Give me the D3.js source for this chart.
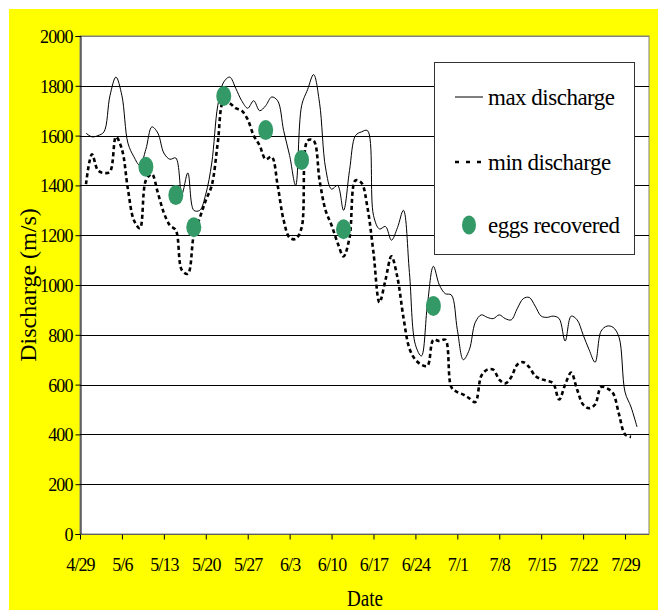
<!DOCTYPE html>
<html>
<head>
<meta charset="utf-8">
<script src="https://cdn.jsdelivr.net/npm/d3@7"></script>
<style>
  body { margin: 0; background: #fff; }
  text { font-family: "Liberation Serif", "Times New Roman", serif; fill: #000; }
</style>
</head>
<body>
<svg width="658" height="611"></svg>
<script>
(function (d3) {
    // daily series, first value is 4/30
    const firstDay = "2003-04-30";
    const maxDischarge = [
        1610, 1595, 1600, 1615, 1760, 1835, 1760, 1570, 1515, 1480,
        1545, 1635, 1610, 1530, 1505, 1510, 1365, 1450, 1300, 1300,
        1365, 1490, 1720, 1815, 1835, 1790, 1740, 1710, 1740, 1700,
        1720, 1755, 1740, 1620, 1520, 1400, 1720, 1785, 1845, 1730,
        1470, 1385, 1400, 1300, 1460, 1600, 1615, 1620, 1280, 1225,
        1235, 1180, 1230, 1300, 1050, 760, 715, 920, 1075, 1000,
        965, 960, 820, 700, 740, 850, 880, 870, 865, 880,
        865, 860, 905, 945, 950, 915, 875, 870, 875, 865,
        775, 875, 860, 800, 740, 690, 815, 835, 830, 790,
        570, 510, 430
    ];
    const minDischarge = [
        1405, 1525, 1460, 1450, 1455, 1595, 1545, 1385, 1260, 1228,
        1420, 1445, 1370, 1290, 1240, 1220, 1060, 1045, 1200, 1270,
        1340, 1400, 1570, 1740, 1730, 1710, 1700, 1665, 1600, 1560,
        1505, 1515, 1400, 1260, 1190, 1185, 1230, 1580, 1580, 1420,
        1300, 1240, 1170, 1115, 1190, 1420, 1410, 1310, 1130, 930,
        1020, 1115, 1030, 870, 745, 700, 680, 675, 780, 775,
        780, 590, 570, 560, 545, 530, 635, 660, 660, 620,
        605, 630, 680, 690, 670, 635, 622, 615, 605, 540,
        600, 648, 580, 520, 505, 520, 590, 585, 565, 480,
        400, 390
    ];
    const eggDates = ["2003-05-10", "2003-05-15", "2003-05-18", "2003-05-23",
                      "2003-05-30", "2003-06-05", "2003-06-12", "2003-06-27"];
    const eggValues = [1475, 1361, 1232, 1759, 1622, 1502, 1224, 916];
    const tickDates = ["2003-04-29", "2003-05-06", "2003-05-13", "2003-05-20",
                       "2003-05-27", "2003-06-03", "2003-06-10", "2003-06-17",
                       "2003-06-24", "2003-07-01", "2003-07-08", "2003-07-15",
                       "2003-07-22", "2003-07-29"];
    const yTicks = [0, 200, 400, 600, 800, 1000, 1200, 1400, 1600, 1800, 2000];
    const legendLabels = ["max discharge", "min discharge", "eggs recovered"];

    const green = "#339966";
    const parse = d3.utcParse("%Y-%m-%d");
    const fmt = d3.utcFormat("%-m/%-d");

    const svg = d3.select("svg");
    const left = 80, right = 649, top = 36, bottom = 534;

    svg.append("rect").attr("x", 9).attr("y", 9)
        .attr("width", 649).attr("height", 601).attr("fill", "#ffff00");
    svg.append("rect").attr("x", left).attr("y", top)
        .attr("width", right - left).attr("height", bottom - top)
        .attr("fill", "#fff").attr("stroke", "#808080");

    const x = d3.scaleUtc()
        .domain([parse("2003-04-29"), parse("2003-08-02")])
        .range([left, right]);
    const y = d3.scaleLinear().domain([0, 2000]).range([bottom, top]);

    const start = parse(firstDay);
    const maxData = maxDischarge.map((v, i) => ({ date: d3.utcDay.offset(start, i), v: v }));
    const minData = minDischarge.map((v, i) => ({ date: d3.utcDay.offset(start, i), v: v }));

    // gridlines
    svg.append("g").selectAll("line").data(yTicks.slice(1)).join("line")
        .attr("x1", left).attr("x2", right)
        .attr("y1", d => Math.round(y(d)) + 0.5).attr("y2", d => Math.round(y(d)) + 0.5)
        .attr("stroke", d => d === 2000 ? "#808080" : "#000").attr("stroke-width", 1);

    // axes
    const yAxis = svg.append("g").attr("transform", `translate(${left + 0.5},0)`)
        .call(d3.axisLeft(y).tickValues(yTicks).tickSize(5).tickPadding(3).tickFormat(d3.format("d")));
    yAxis.select(".domain").attr("stroke", "#000");
    yAxis.selectAll("line").attr("stroke", "#000");
    yAxis.selectAll("text").attr("font-size", 18).attr("letter-spacing", -0.9)
        .attr("font-family", "Liberation Serif").attr("dy", "0.36em");

    const xAxis = svg.append("g").attr("transform", `translate(0,${bottom + 0.5})`)
        .call(d3.axisBottom(x).tickValues(tickDates.map(parse)).tickSize(5)
              .tickPadding(19).tickFormat(fmt));
    xAxis.select(".domain").attr("stroke", "#606060").attr("d", `M${left},0H${right}`);
    xAxis.selectAll("line").attr("stroke", "#000");
    xAxis.selectAll("text").attr("font-size", 18).attr("letter-spacing", -0.9)
        .attr("font-family", "Liberation Serif");

    // lines
    const line = d3.line().x(d => x(d.date)).y(d => y(d.v)).curve(d3.curveCatmullRom);
    svg.append("path").datum(maxData).attr("d", line)
        .attr("fill", "none").attr("stroke", "#000").attr("stroke-width", 1);
    svg.append("path").datum(minData).attr("d", line)
        .attr("fill", "none").attr("stroke", "#000").attr("stroke-width", 2.6)
        .attr("stroke-dasharray", "4,3");

    // eggs
    svg.append("g").selectAll("ellipse").data(eggDates).join("ellipse")
        .attr("cx", d => x(parse(d)))
        .attr("cy", (d, i) => y(eggValues[i]))
        .attr("rx", 7.5).attr("ry", 10).attr("fill", green);

    // axis titles
    svg.append("text").attr("x", 365).attr("y", 606).attr("text-anchor", "middle")
        .attr("font-size", 24).attr("textLength", 36).attr("lengthAdjust", "spacingAndGlyphs")
        .text("Date");
    svg.append("text").attr("transform", `translate(36,${(top + bottom) / 2}) rotate(-90)`)
        .attr("text-anchor", "middle").attr("font-size", 24).text("Discharge (m/s)");

    // legend
    const lg = svg.append("g");
    lg.append("rect").attr("x", 434.5).attr("y", 62.5).attr("width", 200).attr("height", 192)
        .attr("fill", "#fff").attr("stroke", "#333");
    const rowsY = [97, 162, 225];
    lg.append("line").attr("x1", 455).attr("x2", 483).attr("y1", rowsY[0]).attr("y2", rowsY[0])
        .attr("stroke", "#000").attr("stroke-width", 1);
    lg.append("line").attr("x1", 455).attr("x2", 483).attr("y1", rowsY[1]).attr("y2", rowsY[1])
        .attr("stroke", "#000").attr("stroke-width", 2.6).attr("stroke-dasharray", "4,7");
    lg.append("ellipse").attr("cx", 469).attr("cy", rowsY[2]).attr("rx", 7).attr("ry", 9.5)
        .attr("fill", green);
    lg.selectAll("text.lab").data(legendLabels).join("text").attr("class", "lab")
        .attr("x", 488).attr("y", (d, i) => rowsY[i] + 8)
        .attr("font-size", 23).attr("letter-spacing", -0.5).text(d => d);
})(d3);
</script>
</body>
</html>
